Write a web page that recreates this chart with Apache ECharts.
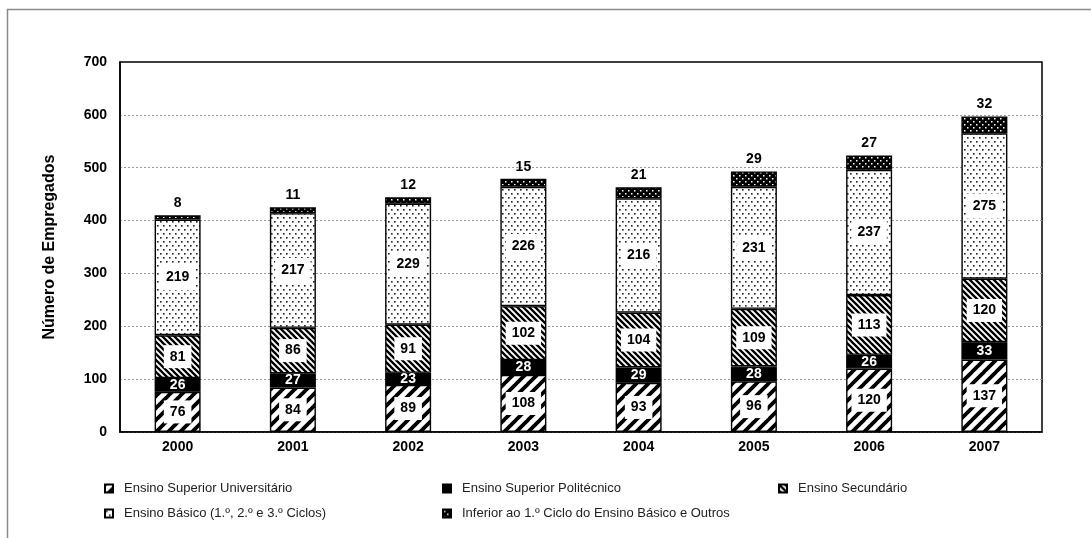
<!DOCTYPE html>
<html>
<head>
<meta charset="utf-8">
<script src="https://cdn.jsdelivr.net/npm/echarts@6/dist/echarts.min.js"></script>
<style>
  html, body { margin: 0; padding: 0; background: #fff; }
  #chart { width: 1091px; height: 538px; }
</style>
</head>
<body>
<div id="chart"></div>
<script>
// Employees by education level, 2000-2007
const years = ['2000', '2001', '2002', '2003', '2004', '2005', '2006', '2007'];
const universitario = [76, 84, 89, 108, 93, 96, 120, 137];
const politecnico = [26, 27, 23, 28, 29, 28, 26, 33];
const secundario = [81, 86, 91, 102, 104, 109, 113, 120];
const basico = [219, 217, 229, 226, 216, 231, 237, 275];
const inferior = [8, 11, 12, 15, 21, 29, 27, 32];
const yTicks = [0, 100, 200, 300, 400, 500, 600, 700];

const FONT = '"Liberation Sans", Arial, sans-serif';

// Fill patterns drawn on small tiles
function tile(w, h, draw) {
  const c = document.createElement('canvas');
  c.width = w; c.height = h;
  const ctx = c.getContext('2d');
  draw(ctx, w, h);
  return { image: c, repeat: 'repeat' };
}

// wide upward diagonal stripes
const patUpWide = tile(12, 12, (ctx, s) => {
  ctx.fillStyle = '#fff'; ctx.fillRect(0, 0, s, s);
  ctx.strokeStyle = '#000'; ctx.lineWidth = 3.8;
  ctx.beginPath();
  for (let k = -1; k <= 1; k++) {
    ctx.moveTo(k * s - 1, s + 1); ctx.lineTo(k * s + s + 1, -1);
  }
  ctx.stroke();
});

// dense downward diagonal stripes
const patDownNarrow = tile(6, 6, (ctx, s) => {
  ctx.fillStyle = '#fff'; ctx.fillRect(0, 0, s, s);
  ctx.strokeStyle = '#000'; ctx.lineWidth = 2.3;
  ctx.beginPath();
  for (let k = -1; k <= 1; k++) {
    ctx.moveTo(k * s - 1, -1); ctx.lineTo(k * s + s + 1, s + 1);
  }
  ctx.stroke();
});

// light dotted fill
const patDots = tile(6, 8, (ctx, w, h) => {
  ctx.fillStyle = '#fff'; ctx.fillRect(0, 0, w, h);
  ctx.fillStyle = '#222';
  ctx.fillRect(1, 1, 1.6, 1.6);
  ctx.fillRect(4, 5, 1.6, 1.6);
});

// dark fill with white dots
const patDarkDots = tile(6, 6, (ctx, s) => {
  ctx.fillStyle = '#000'; ctx.fillRect(0, 0, s, s);
  ctx.fillStyle = '#fff';
  ctx.fillRect(1, 1, 1.5, 1.5);
  ctx.fillRect(4, 4, 1.5, 1.5);
});

const boxLabel = {
  show: true,
  position: 'inside',
  color: '#000',
  fontFamily: FONT,
  fontWeight: 'bold',
  fontSize: 14,
  backgroundColor: '#fff',
  padding: [5, 6, 4, 6]
};

const barBase = {
  type: 'bar',
  stack: 'total',
  barWidth: 46,
  emphasis: { disabled: true }
};

const names = [
  'Ensino Superior Universitário',
  'Ensino Superior Politécnico',
  'Ensino Secundário',
  'Ensino Básico (1.º, 2.º e 3.º Ciclos)',
  'Inferior ao 1.º Ciclo do Ensino Básico e Outros'
];

const legendPos = [
  { left: 104, top: 482 },
  { left: 442, top: 482 },
  { left: 778, top: 482 },
  { left: 104, top: 507 },
  { left: 442, top: 507 }
];

const option = {
  animation: false,
  backgroundColor: '#fff',
  textStyle: { fontFamily: FONT },
  graphic: [{
    type: 'rect',
    shape: { x: 7.5, y: 9.5, width: 1100, height: 540 },
    style: { fill: 'none', stroke: '#8a8a8a', lineWidth: 1.5 },
    silent: true
  }],
  legend: names.map((n, i) => ({
    data: [n],
    left: legendPos[i].left,
    top: legendPos[i].top,
    icon: 'rect',
    itemWidth: 8,
    itemHeight: 8,
    padding: 0,
    selectedMode: false,
    itemStyle: { borderColor: '#000', borderWidth: 2 },
    textStyle: { fontFamily: FONT, fontSize: 13, color: '#222', padding: [0, 0, 0, 6] }
  })),
  grid: {
    left: 120, right: 49, top: 62, bottom: 106,
    show: true, borderColor: '#000', borderWidth: 1.5
  },
  xAxis: {
    type: 'category',
    data: years,
    axisLine: { lineStyle: { color: '#000', width: 1.5 } },
    axisTick: { show: false },
    axisLabel: { color: '#000', fontFamily: FONT, fontWeight: 'bold', fontSize: 14, margin: 8 }
  },
  yAxis: {
    type: 'value',
    min: yTicks[0],
    max: yTicks[yTicks.length - 1],
    interval: 100,
    name: 'Número de Empregados',
    nameLocation: 'middle',
    nameGap: 62,
    nameTextStyle: { color: '#000', fontFamily: FONT, fontWeight: 'bold', fontSize: 16 },
    axisLine: { show: true, lineStyle: { color: '#000', width: 1.5 } },
    axisTick: { show: false },
    axisLabel: { color: '#000', fontFamily: FONT, fontWeight: 'bold', fontSize: 14, margin: 13 },
    splitLine: { showMaxLine: false, lineStyle: { color: '#999', type: [2, 2], width: 1 } }
  },
  series: [
    Object.assign({}, barBase, {
      name: names[0], data: universitario,
      itemStyle: { color: patUpWide, borderColor: '#000', borderWidth: 1.4 },
      label: boxLabel
    }),
    Object.assign({}, barBase, {
      name: names[1], data: politecnico,
      itemStyle: { color: '#000', borderColor: '#000', borderWidth: 1.4 },
      label: { show: true, position: 'inside', color: '#fff', fontFamily: FONT, fontWeight: 'bold', fontSize: 14 }
    }),
    Object.assign({}, barBase, {
      name: names[2], data: secundario,
      itemStyle: { color: patDownNarrow, borderColor: '#000', borderWidth: 1.4 },
      label: boxLabel
    }),
    Object.assign({}, barBase, {
      name: names[3], data: basico,
      itemStyle: { color: patDots, borderColor: '#000', borderWidth: 1.4 },
      label: Object.assign({}, boxLabel, { padding: [6, 6, 5, 6] })
    }),
    Object.assign({}, barBase, {
      name: names[4], data: inferior,
      itemStyle: { color: patDarkDots, borderColor: '#000', borderWidth: 1.4 },
      label: { show: true, position: 'top', distance: 5, color: '#000', fontFamily: FONT, fontWeight: 'bold', fontSize: 14 }
    })
  ]
};

const chart = echarts.init(document.getElementById('chart'), null, { renderer: 'canvas' });
chart.setOption(option);
</script>
</body>
</html>
